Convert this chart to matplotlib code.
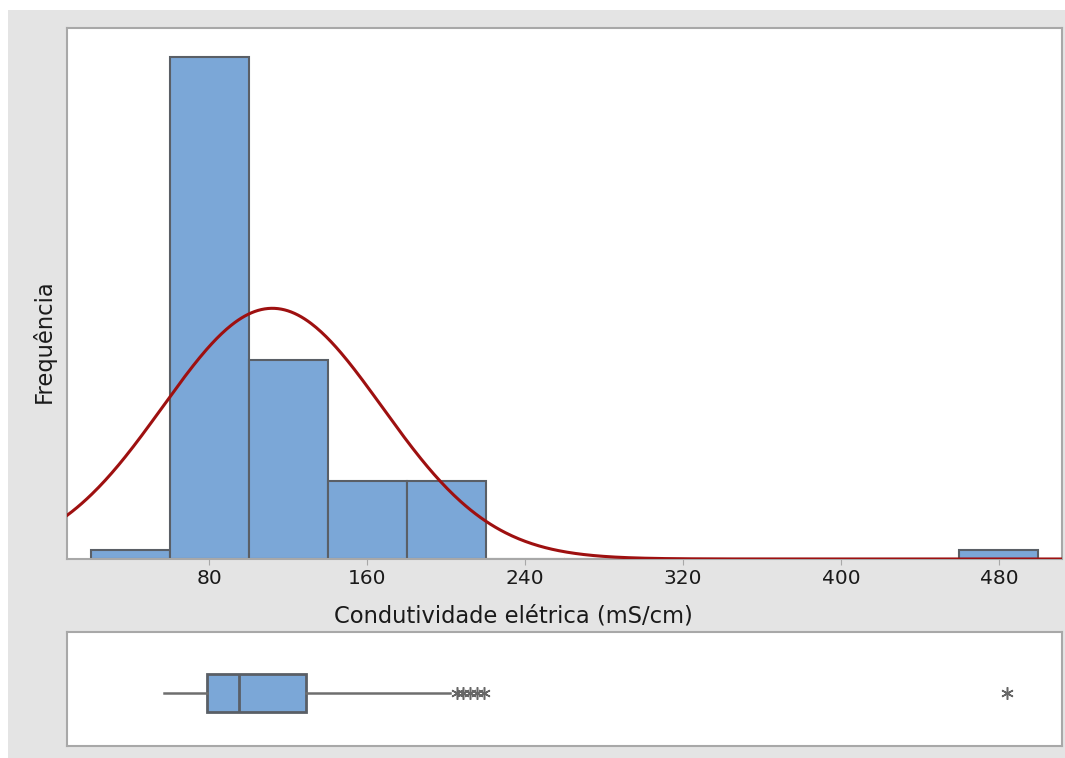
import numpy as np
import matplotlib.pyplot as plt
from matplotlib.patches import Rectangle

# Histogram data (bins of 40 mS/cm)
bin_edges = [20, 60, 100, 140, 180, 220, 260, 300, 340, 380, 420, 460, 500]
counts = [1, 58, 23, 9, 9, 0, 0, 0, 0, 0, 0, 1]

# Normal fit
mu = 112
sigma = 55.6
n_obs = sum(counts)
bin_width = 40

# Boxplot summary
box_stats = dict(whislo=57, q1=79, med=95, q3=129, whishi=202,
                 fliers=[205.5, 208.5, 212, 215.5, 219, 484])

xticks = [80, 160, 240, 320, 400, 480]

bar_color = '#7ba7d7'
edge_color = '#5a5f66'
spine_color = '#a8a8a8'
curve_color = '#9e1010'
text_color = '#1a1a1a'

fig = plt.figure(figsize=(10.65, 7.58), dpi=100)
fig.patch.set_facecolor('white')
fig.patches.append(Rectangle((8 / 1065, 0), 1, 1 - 10 / 758, transform=fig.transFigure,
                             facecolor='#e4e4e4', edgecolor='none', zorder=-10))

ax = fig.add_axes([67 / 1065, 1 - 559 / 758, 995 / 1065, 531 / 758])
axb = fig.add_axes([67 / 1065, 1 - 746 / 758, 995 / 1065, 114 / 758])

# Histogram
ax.bar(bin_edges[:-1], counts, width=bin_width, align='edge',
       color=bar_color, edgecolor=edge_color, linewidth=1.5, zorder=2)

# Normal curve
xs = np.linspace(8, 512, 600)
ys = n_obs * bin_width * np.exp(-0.5 * ((xs - mu) / sigma) ** 2) / (sigma * np.sqrt(2 * np.pi))
ax.plot(xs, ys, color=curve_color, linewidth=2.2, zorder=3)

ax.set_xlim(8, 512)
ax.set_ylim(0, 61.4)
ax.set_xticks(xticks)
ax.set_xticklabels([str(t) for t in xticks], fontsize=14.5, color=text_color)
ax.set_yticks([])
ax.tick_params(axis='x', length=4, color=spine_color, pad=3)
for s in ax.spines.values():
    s.set_color(spine_color)
    s.set_linewidth(1.5)
ax.set_xlabel('Condutividade elétrica (mS/cm)', fontsize=16.3, color=text_color)
ax.xaxis.set_label_coords(0.449, -0.085)
ax.set_ylabel('Frequência', fontsize=16.3, color=text_color)
ax.yaxis.set_label_coords(-0.011, 0.41)

# Boxplot
axb.bxp([box_stats], positions=[0.4675], widths=0.333, vert=False,
        patch_artist=True, showcaps=False,
        boxprops=dict(facecolor=bar_color, edgecolor=edge_color, linewidth=2),
        medianprops=dict(color=edge_color, linewidth=2),
        whiskerprops=dict(color='#6e6e6e', linewidth=1.8),
        flierprops=dict(marker=(6, 2, 0), markersize=9, markeredgecolor='#666666',
                        markeredgewidth=1.1, linestyle='none'))
axb.set_xlim(8, 512)
axb.set_ylim(0, 1)
axb.set_xticks([])
axb.set_yticks([])
for s in axb.spines.values():
    s.set_color(spine_color)
    s.set_linewidth(1.5)

fig.savefig('out.png', dpi=100)
